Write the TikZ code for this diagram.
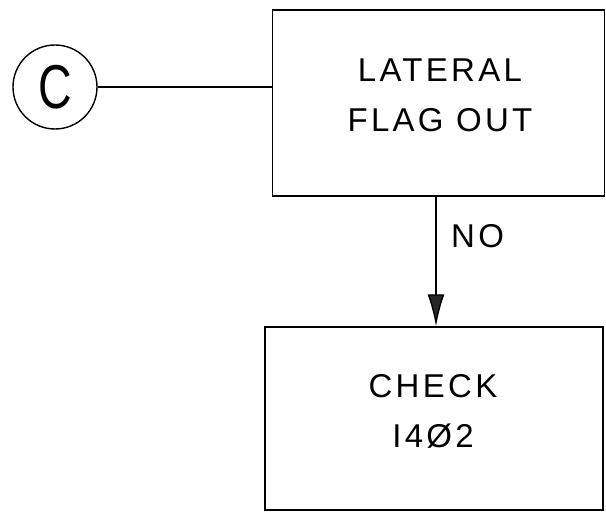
\documentclass[tikz,border=0pt]{standalone}
\usepackage{fontspec}
\setmainfont{Liberation Sans}
\newfontfamily\drawfont[LetterSpace=10]{Liberation Sans}
\usetikzlibrary{arrows.meta}
\tikzset{
  boxst/.style={draw, line width=1.4pt, rectangle, inner sep=0pt},
  lbl/.style={font=\drawfont\fontsize{33}{50}\selectfont, align=center, inner sep=0pt},
  conn/.style={line width=1.3pt},
}
\begin{document}
\begin{tikzpicture}[x=1pt,y=-1pt]
\useasboundingbox (0,0) rectangle (606,516);
\node[draw, circle, line width=1.4pt, minimum size=84pt, inner sep=0pt] (c) at (55,87) {};
\node[font=\fontsize{62}{62}\selectfont, inner sep=0pt] (ct) at (c.center) {\scalebox{0.75}[1]{C}};
\node[boxst, minimum width=332pt, minimum height=186pt] (b1) at (438.5,103) {};
\node[lbl] (t1) at (440,95) {LATERAL\\FLAG OUT};
\node[boxst, minimum width=338pt, minimum height=183pt] (b2) at (434,418.5) {};
\node[lbl] (t2) at (433,411) {CHECK\\I4Ø2};
\draw[conn] (c.east) -- (c.east -| b1.west);
\coordinate (a1) at (b1.south -| 436,0);
\draw[conn, -{Latex[length=32pt, width=17pt, fill=black!85]}] (a1) -- (a1 |- b2.north);
\node[font=\drawfont\fontsize{33}{33}\selectfont, anchor=base west, inner sep=0pt] (no) at (451,248) {NO};
\end{tikzpicture}
\end{document}
